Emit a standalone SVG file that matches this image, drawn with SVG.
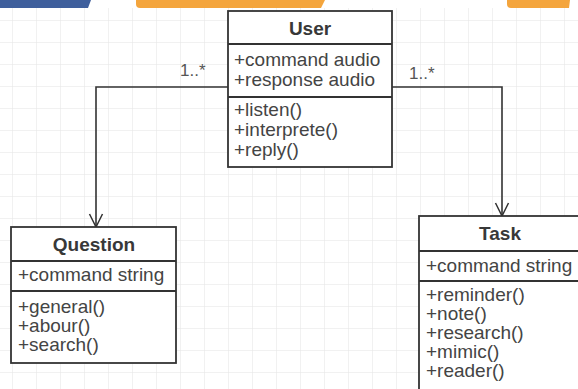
<svg xmlns="http://www.w3.org/2000/svg" width="578" height="389" viewBox="0 0 578 389">
  <defs>
    <pattern id="grid" x="12" y="20" width="24" height="22" patternUnits="userSpaceOnUse">
      <path d="M0 0 V22 M0 0 H24" fill="none" stroke="#e3e3e3" stroke-width="1"/>
    </pattern>
    <!-- open "V" arrowhead, drawn pointing along +x -->
    <marker id="open" viewBox="0 0 16 16" refX="15" refY="8" markerWidth="16" markerHeight="16" markerUnits="userSpaceOnUse" orient="auto">
      <path d="M2 1.5 L15 8 L2 14.5" fill="none" stroke="#333" stroke-width="1.5"/>
    </marker>
  </defs>
  <style>
    .box { fill: #ffffff; stroke: #333333; stroke-width: 1.8; }
    .div { stroke: #333333; stroke-width: 1.8; }
    .title { font-family: "Liberation Sans", Arial, sans-serif; font-size: 19px; font-weight: bold; fill: #383838; text-anchor: middle; }
    .item { font-family: "Liberation Sans", Arial, sans-serif; font-size: 19px; fill: #444444; }
    .mult { font-family: "Liberation Sans", Arial, sans-serif; font-size: 17px; fill: #555555; }
    .link { fill: none; stroke: #333333; stroke-width: 1.6; }
  </style>

  <!-- page background and grid -->
  <rect x="0" y="0" width="578" height="389" fill="#ffffff"/>
  <rect x="0" y="8" width="578" height="381" fill="url(#grid)"/>

  <!-- header strip -->
  <path d="M0 0 H91 L88 8 H0 Z" fill="#3f5f9c"/>
  <path d="M136 0 H325 L321 8 H140 Q136 8 136 4 Z" fill="#f4a53d"/>
  <path d="M507 0 H570 L569 8 H511 Q507 8 507 4 Z" fill="#f4a53d"/>

  <!-- connectors -->
  <g id="connectors">
    <path class="link" d="M228 87 H96 V227" marker-end="url(#open)"/>
    <path class="link" d="M392 87 H502 V216" marker-end="url(#open)"/>
    <text class="mult" x="180" y="76">1..*</text>
    <text class="mult" x="409" y="79">1..*</text>
  </g>

  <!-- User class -->
  <g id="user">
    <rect class="box" x="228" y="11" width="164" height="156"/>
    <line class="div" x1="228" y1="44" x2="392" y2="44"/>
    <line class="div" x1="228" y1="97" x2="392" y2="97"/>
    <text class="title" x="310" y="35">User</text>
    <text class="item" x="234" y="66">+command audio</text>
    <text class="item" x="234" y="86">+response audio</text>
    <text class="item" x="234" y="116">+listen()</text>
    <text class="item" x="234" y="136">+interprete()</text>
    <text class="item" x="234" y="156">+reply()</text>
  </g>

  <!-- Question class -->
  <g id="question">
    <rect class="box" x="11" y="227" width="165" height="136"/>
    <line class="div" x1="11" y1="261" x2="176" y2="261"/>
    <line class="div" x1="11" y1="291" x2="176" y2="291"/>
    <text class="title" x="94" y="251">Question</text>
    <text class="item" x="18" y="281">+command string</text>
    <text class="item" x="18" y="313">+general()</text>
    <text class="item" x="18" y="332">+abour()</text>
    <text class="item" x="18" y="351">+search()</text>
  </g>

  <!-- Task class -->
  <g id="task">
    <rect class="box" x="419" y="216" width="163" height="190"/>
    <line class="div" x1="419" y1="251" x2="582" y2="251"/>
    <line class="div" x1="419" y1="281" x2="582" y2="281"/>
    <text class="title" x="500" y="240">Task</text>
    <text class="item" x="426" y="272">+command string</text>
    <text class="item" x="426" y="301">+reminder()</text>
    <text class="item" x="426" y="320">+note()</text>
    <text class="item" x="426" y="339">+research()</text>
    <text class="item" x="426" y="358">+mimic()</text>
    <text class="item" x="426" y="377">+reader()</text>
  </g>
</svg>
